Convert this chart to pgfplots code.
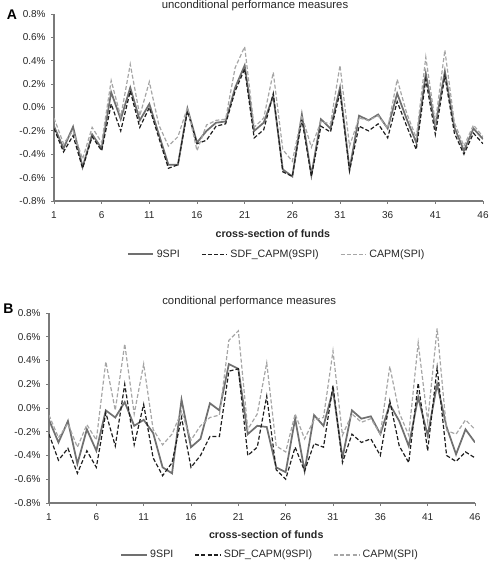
\documentclass[border=0pt]{standalone}
\usepackage{fontspec}
\setmainfont{Liberation Sans}
\usepackage{pgfplots}
\usepackage{pgfplotstable}
\pgfplotsset{compat=1.18}
\definecolor{solidgray}{HTML}{707070}
\definecolor{capmgray}{HTML}{A6A6A6}
\definecolor{sdfblack}{HTML}{1E1E1E}
\definecolor{axisgray}{HTML}{7A7A7A}

% x  s9spi  sdf  capm   (values in percent)
\pgfplotstableread{
x s d c
1 -0.16 -0.18 -0.09
2 -0.35 -0.38 -0.31
3 -0.165 -0.24 -0.20
4 -0.51 -0.52 -0.44
5 -0.23 -0.25 -0.17
6 -0.35 -0.37 -0.30
7 0.13 0.03 0.23
8 -0.10 -0.20 -0.08
9 0.17 0.14 0.37
10 -0.11 -0.17 -0.07
11 0.03 0.00 0.22
12 -0.23 -0.26 -0.15
13 -0.49 -0.52 -0.33
14 -0.49 -0.49 -0.25
15 -0.01 -0.03 0.00
16 -0.30 -0.31 -0.37
17 -0.20 -0.28 -0.15
18 -0.13 -0.16 -0.11
19 -0.12 -0.14 -0.10
20 0.17 0.14 0.34
21 0.36 0.33 0.52
22 -0.20 -0.26 -0.17
23 -0.13 -0.19 -0.09
24 0.10 0.12 0.30
25 -0.53 -0.55 -0.36
26 -0.59 -0.59 -0.46
27 -0.06 -0.10 -0.07
28 -0.58 -0.59 -0.34
29 -0.10 -0.16 -0.12
30 -0.18 -0.21 -0.14
31 0.17 0.13 0.36
32 -0.53 -0.54 -0.33
33 -0.07 -0.16 -0.09
34 -0.11 -0.20 -0.11
35 -0.06 -0.14 -0.07
36 -0.18 -0.26 -0.18
37 0.12 0.05 0.24
38 -0.10 -0.16 -0.05
39 -0.30 -0.36 -0.26
40 0.29 0.24 0.43
41 -0.16 -0.23 -0.13
42 0.31 0.27 0.49
43 -0.17 -0.22 -0.13
44 -0.37 -0.40 -0.33
45 -0.18 -0.22 -0.15
46 -0.27 -0.31 -0.25
}\tableA

\pgfplotstableread{
x s d c
1 -0.10 -0.22 -0.06
2 -0.29 -0.44 -0.25
3 -0.11 -0.34 -0.13
4 -0.47 -0.55 -0.33
5 -0.18 -0.36 -0.14
6 -0.36 -0.50 -0.27
7 -0.02 -0.04 0.39
8 -0.08 -0.32 -0.02
9 0.05 0.20 0.54
10 -0.15 -0.31 -0.05
11 -0.10 0.03 0.37
12 -0.21 -0.42 -0.18
13 -0.50 -0.57 -0.31
14 -0.55 -0.46 -0.22
15 0.07 -0.08 -0.03
16 -0.33 -0.50 -0.27
17 -0.26 -0.40 -0.15
18 0.04 -0.24 -0.08
19 -0.02 -0.24 -0.06
20 0.37 0.31 0.57
21 0.33 0.33 0.65
22 -0.22 -0.40 -0.18
23 -0.15 -0.33 -0.05
24 -0.16 0.10 0.38
25 -0.50 -0.52 -0.32
26 -0.54 -0.60 -0.37
27 -0.09 -0.33 -0.05
28 -0.53 -0.53 -0.26
29 -0.06 -0.30 -0.10
30 -0.15 -0.33 -0.08
31 0.15 0.19 0.48
32 -0.42 -0.46 -0.23
33 -0.02 -0.22 -0.05
34 -0.09 -0.29 -0.12
35 -0.07 -0.26 -0.09
36 -0.22 -0.40 -0.22
37 0.03 0.06 0.35
38 -0.11 -0.32 -0.04
39 -0.32 -0.46 -0.23
40 0.09 0.21 0.55
41 -0.23 -0.36 -0.11
42 0.20 0.34 0.67
43 -0.16 -0.40 -0.19
44 -0.39 -0.45 -0.22
45 -0.18 -0.37 -0.10
46 -0.29 -0.42 -0.18
}\tableB

\pgfplotsset{
  panel/.style={
    scale only axis,
    axis lines=left,
    axis line style={axisgray, line width=0.8pt, -},
    xmin=1, xmax=46, ymin=-0.8, ymax=0.8,
    xtick={1,6,11,16,21,26,31,36,41,46},
    ytick={-0.8,-0.6,-0.4,-0.2,0,0.2,0.4,0.6,0.8},
    /pgf/number format/assume math mode=true,
    yticklabel={\pgfmathprintnumber[fixed,fixed zerofill,precision=1,assume math mode=true]{\tick}\%},
    tick align=outside,
    major tick length=2.25pt,
    tick style={axisgray, line width=0.6pt},
    ticklabel style={font=\fontsize{7.5}{9}\selectfont, text=black!85},
    xticklabel style={yshift=-2pt},
    yticklabel style={xshift=-0.5pt},
    xlabel={\textbf{cross-section of funds}},
    xlabel style={font=\fontsize{8}{9}\selectfont, text=black!85},
    every axis title shift=0pt,
    title style={font=\fontsize{8.5}{10}\selectfont, text=black!85},
    legend columns=3,
    legend style={draw=none, fill=none, font=\fontsize{8}{9}\selectfont, text=black!85,
      /tikz/every even column/.append style={column sep=14pt}},
    legend image code/.code={\draw[##1] (0pt,0pt) -- (19pt,0pt);},
  },
  s9/.style={solidgray, line width=1.3pt, solid},
  sdf/.style={sdfblack, line width=0.9pt, dash pattern=on 3pt off 1.6pt},
  capm/.style={capmgray, line width=0.9pt, dash pattern=on 3pt off 1.6pt},
}

\begin{document}
\begin{tikzpicture}
\useasboundingbox (0,0) rectangle (375pt,426pt);

\begin{axis}[panel,
  at={(40.5pt,275.25pt)}, anchor=south west,
  width=321.75pt, height=140.25pt,
  xlabel style={at={(0.51,-0.176)}, anchor=center},
  legend style={at={(0.52,-0.285)}, anchor=center},
]
\addplot[s9] table[x=x,y=s] {\tableA};
\addlegendentry{9SPI}
\addplot[sdf] table[x=x,y=d] {\tableA};
\addlegendentry{SDF\_CAPM(9SPI)}
\addplot[capm] table[x=x,y=c] {\tableA};
\addlegendentry{CAPM(SPI)}
\end{axis}

\begin{axis}[panel,
  at={(36.75pt,48.75pt)}, anchor=south west,
  width=319.5pt, height=142.5pt,
  title={conditional performance measures},
  title style={at={(0.47,1)}, anchor=center, yshift=8.25pt},
  xlabel style={at={(0.51,-0.168)}, anchor=center},
  legend style={at={(0.52,-0.274)}, anchor=center},
]
\addplot[s9] table[x=x,y=s] {\tableB};
\addlegendentry{9SPI}
\addplot[sdf] table[x=x,y=d] {\tableB};
\addlegendentry{SDF\_CAPM(9SPI)}
\addplot[capm] table[x=x,y=c] {\tableB};
\addlegendentry{CAPM(SPI)}
\end{axis}

\node[anchor=north, inner sep=0pt, font=\fontsize{8.5}{10}\selectfont, text=black!85] at (191.25pt,426pt) {unconditional performance measures};
\node[anchor=west, inner sep=0pt, font=\bfseries\fontsize{10.5}{11}\selectfont] at (5pt,415pt) {A};
\node[anchor=west, inner sep=0pt, font=\bfseries\fontsize{10.5}{11}\selectfont] at (2.25pt,194.25pt) {B};
\end{tikzpicture}
\end{document}
